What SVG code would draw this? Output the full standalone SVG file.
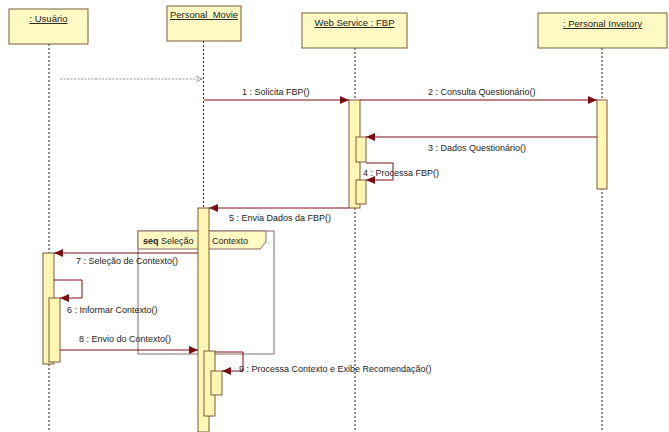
<svg xmlns="http://www.w3.org/2000/svg" width="669" height="432" viewBox="0 0 669 432">
<defs>
<marker id="ah" markerWidth="9" markerHeight="8" refX="9" refY="4" orient="auto" markerUnits="userSpaceOnUse">
<path d="M0,0 L9,4 L0,8 Z" fill="#7a0f12"/>
</marker>
<marker id="oh" markerWidth="6" markerHeight="6" refX="6" refY="3" orient="auto" markerUnits="userSpaceOnUse">
<path d="M0,0 L6,3 L0,6" fill="none" stroke="#777" stroke-width="0.8"/>
</marker>
</defs>
<style>
text{font-family:"Liberation Sans",Arial,sans-serif;font-size:9px;fill:#222}
.obj{fill:#fff9c4;stroke:#7a5c3c;stroke-width:1}
.title{text-decoration:underline;text-anchor:middle;font-size:9.5px}
.life{stroke:#222;stroke-width:1;stroke-dasharray:2,2;fill:none}
.act{fill:#fff6b4;stroke:#7a5c3c;stroke-width:1}
.msg{stroke:#7a0f12;stroke-width:1;fill:none;marker-end:url(#ah)}
.frame{fill:none;stroke:#8a6d6d;stroke-width:1}
.tab{fill:#fff9c4;stroke:#8a6d6d;stroke-width:1}
</style>
<rect width="669" height="432" fill="#fff"/>

<g id="lifelines">
<line class="life" x1="49" y1="44" x2="49" y2="253"/>
<line class="life" x1="49" y1="364" x2="49" y2="432"/>
<line class="life" x1="203.5" y1="41" x2="203.5" y2="432"/>
<line class="life" x1="355" y1="48" x2="355" y2="432"/>
<line class="life" x1="602" y1="48" x2="602" y2="432"/>
</g>

<g id="usuario">
<rect class="obj" x="9" y="9" width="79" height="35"/>
<text class="title" x="48.5" y="22">: Usuário</text>
</g>
<g id="personal-movie">
<rect class="obj" x="167" y="6" width="74" height="35"/>
<text class="title" x="204" y="18" xml:space="preserve">Personal  Movie</text>
</g>
<g id="web-service">
<rect class="obj" x="302" y="13" width="105" height="35"/>
<text class="title" x="354.5" y="26">Web Service : FBP</text>
</g>
<g id="personal-invetory">
<rect class="obj" x="538" y="13" width="129" height="35"/>
<text class="title" x="602.5" y="27">: Personal Invetory</text>
</g>

<g id="fragment">
<rect class="frame" x="138" y="231" width="136" height="123"/>
<path class="tab" d="M138,231 H266 V242 L260,249 H138 Z"/>
<text x="143" y="244"><tspan font-weight="bold">seq</tspan> Seleção</text>
<text x="212" y="244">Contexto</text>
</g>

<g id="activations">
<rect class="act" x="349" y="100" width="11" height="108"/>
<rect class="act" x="356" y="137" width="10" height="25"/>
<rect class="act" x="356" y="180" width="10" height="24"/>
<rect class="act" x="597" y="100" width="10" height="89"/>
<rect class="act" x="198" y="208" width="11" height="224"/>
<rect class="act" x="204" y="351" width="11" height="65"/>
<rect class="act" x="211" y="371" width="11" height="24"/>
<rect class="act" x="43" y="253" width="11" height="111"/>
<rect class="act" x="49" y="298" width="11" height="64"/>
</g>

<g id="connectors">
<line x1="60" y1="79" x2="202" y2="79" stroke="#777" stroke-width="0.8" stroke-dasharray="2,1.5" marker-end="url(#oh)"/>
<line class="msg" x1="204" y1="100" x2="349" y2="100"/>
<line class="msg" x1="360" y1="100" x2="597" y2="100"/>
<line class="msg" x1="597" y1="137" x2="366" y2="137"/>
<polyline class="msg" points="366,163 393,163 393,180 366,180"/>
<line class="msg" x1="349" y1="208" x2="209" y2="208"/>
<line class="msg" x1="198" y1="253" x2="54" y2="253"/>
<polyline class="msg" points="54,280 82,280 82,298 60,298"/>
<line class="msg" x1="60" y1="350" x2="198" y2="350"/>
<polyline class="msg" points="215,352 243,352 243,371 222,371"/>
</g>

<g id="labels">
<text x="242" y="95">1 : Solicita FBP()</text>
<text x="428" y="95">2 : Consulta Questionário()</text>
<text x="428" y="151">3 : Dados Questionário()</text>
<text x="363" y="176">4 : Processa FBP()</text>
<text x="229" y="221">5 : Envia Dados da FBP()</text>
<text x="76" y="264">7 : Seleção de Contexto()</text>
<text x="67" y="313">6 : Informar Contexto()</text>
<text x="79" y="342">8 : Envio do Contexto()</text>
<text x="239" y="372">9 : Processa Contexto e Exibe Recomendação()</text>
</g>
</svg>
